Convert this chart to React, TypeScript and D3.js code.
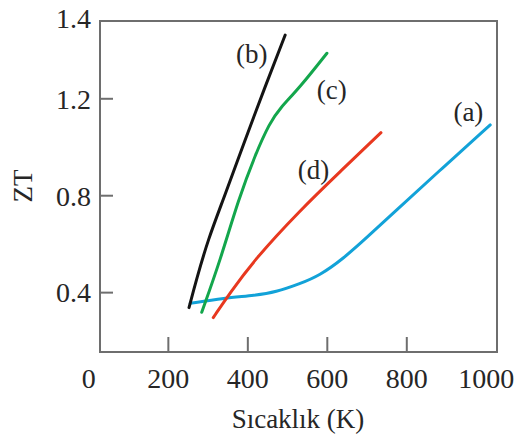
import React from "react";
import * as d3 from "d3";

const xTickValues = [200, 400, 600, 800];
const xTickLabels = ["0", "200", "400", "600", "800", "1000"];
const xTickLabelValues = [0, 200, 400, 600, 800, 1000];
const yTickValues = [0.4, 0.8, 1.2];
const yTickLabels = ["0.4", "0.8", "1.2"];
const yTopLabel = "1.4";

const seriesA = [
  [255, 0.356], [340, 0.377], [420, 0.389], [470, 0.402], [530, 0.436],
  [580, 0.47], [640, 0.54], [700, 0.628], [760, 0.72], [880, 0.9], [1010, 1.092],
];
const seriesB = [
  [252, 0.338], [270, 0.45], [300, 0.62], [338, 0.783], [393, 1.03], [440, 1.235], [494, 1.463],
];
const seriesC = [
  [284, 0.319], [331, 0.535], [376, 0.783], [420, 0.975], [455, 1.1],
  [480, 1.16], [530, 1.245], [599, 1.388],
];
const seriesD = [
  [313, 0.297], [355, 0.398], [416, 0.535], [532, 0.741], [632, 0.899], [735, 1.06],
];

const seriesNames = ["(a)", "(b)", "(c)", "(d)"];
const seriesData = [seriesA, seriesB, seriesC, seriesD];
const seriesColors = ["#12a2d8", "#141414", "#13a64c", "#e8381f"];
const labelAnchors = [
  [955, 1.147], [410, 1.388], [611, 1.237], [565, 0.906],
];

const W = 514, H = 441;
const left = 100, right = 497, top = 21, bottom = 352;
const FONT = "'Liberation Serif', 'Times New Roman', serif";
const TEXT = "#262626";

export default function App() {
  const x = d3.scaleLinear().domain([28, 1027]).range([left, right]);
  const y = d3.scaleLinear().domain([0.155, 1.521]).range([bottom, top]);
  const line = d3
    .line<number[]>()
    .x((d) => x(d[0]))
    .y((d) => y(d[1]))
    .curve(d3.curveBasis);

  return (
    <svg
      width={W}
      height={H}
      style={{ position: "absolute", left: 0, top: 0, background: "#fff" }}
      fontFamily={FONT}
    >
      <rect x={0} y={0} width={W} height={H} fill="#fff" />
      <rect x={left} y={top} width={right - left} height={bottom - top} fill="none" stroke="#6e6e6e" strokeWidth={2} />
      {xTickValues.map((v) => (
        <line key={"xt" + v} x1={x(v)} x2={x(v)} y1={bottom} y2={bottom - 15} stroke="#6e6e6e" strokeWidth={2} />
      ))}
      {xTickLabelValues.map((v, i) => (
        <text key={"xl" + v} x={x(v)} y={388} textAnchor="middle" fontSize={28} fill={TEXT}>
          {xTickLabels[i]}
        </text>
      ))}
      {yTickValues.map((v) => (
        <line key={"yt" + v} x1={left} x2={left + 13} y1={y(v)} y2={y(v)} stroke="#6e6e6e" strokeWidth={2} />
      ))}
      {yTickValues.map((v, i) => (
        <text key={"yl" + v} x={91} y={y(v)} dy="0.35em" textAnchor="end" fontSize={28} fill={TEXT}>
          {yTickLabels[i]}
        </text>
      ))}
      <text x={91} y={y.range()[1] - 3} dy="0.35em" textAnchor="end" fontSize={28} fill={TEXT}>
        {yTopLabel}
      </text>
      <text transform={`translate(23,186) rotate(-90)`} dy="0.35em" textAnchor="middle" fontSize={27} fill={TEXT}>
        ZT
      </text>
      <text x={298} y={428} textAnchor="middle" fontSize={27} fill={TEXT}>
        Sıcaklık (K)
      </text>
      {seriesData.map((s, i) => (
        <path key={"s" + i} d={line(s) || ""} fill="none" stroke={seriesColors[i]} strokeWidth={3} strokeLinecap="round" />
      ))}
      {seriesNames.map((n, i) => (
        <text key={"n" + i} x={x(labelAnchors[i][0])} y={y(labelAnchors[i][1])} dy="0.35em" textAnchor="middle" fontSize={27} fill={TEXT}>
          {n}
        </text>
      ))}
    </svg>
  );
}
